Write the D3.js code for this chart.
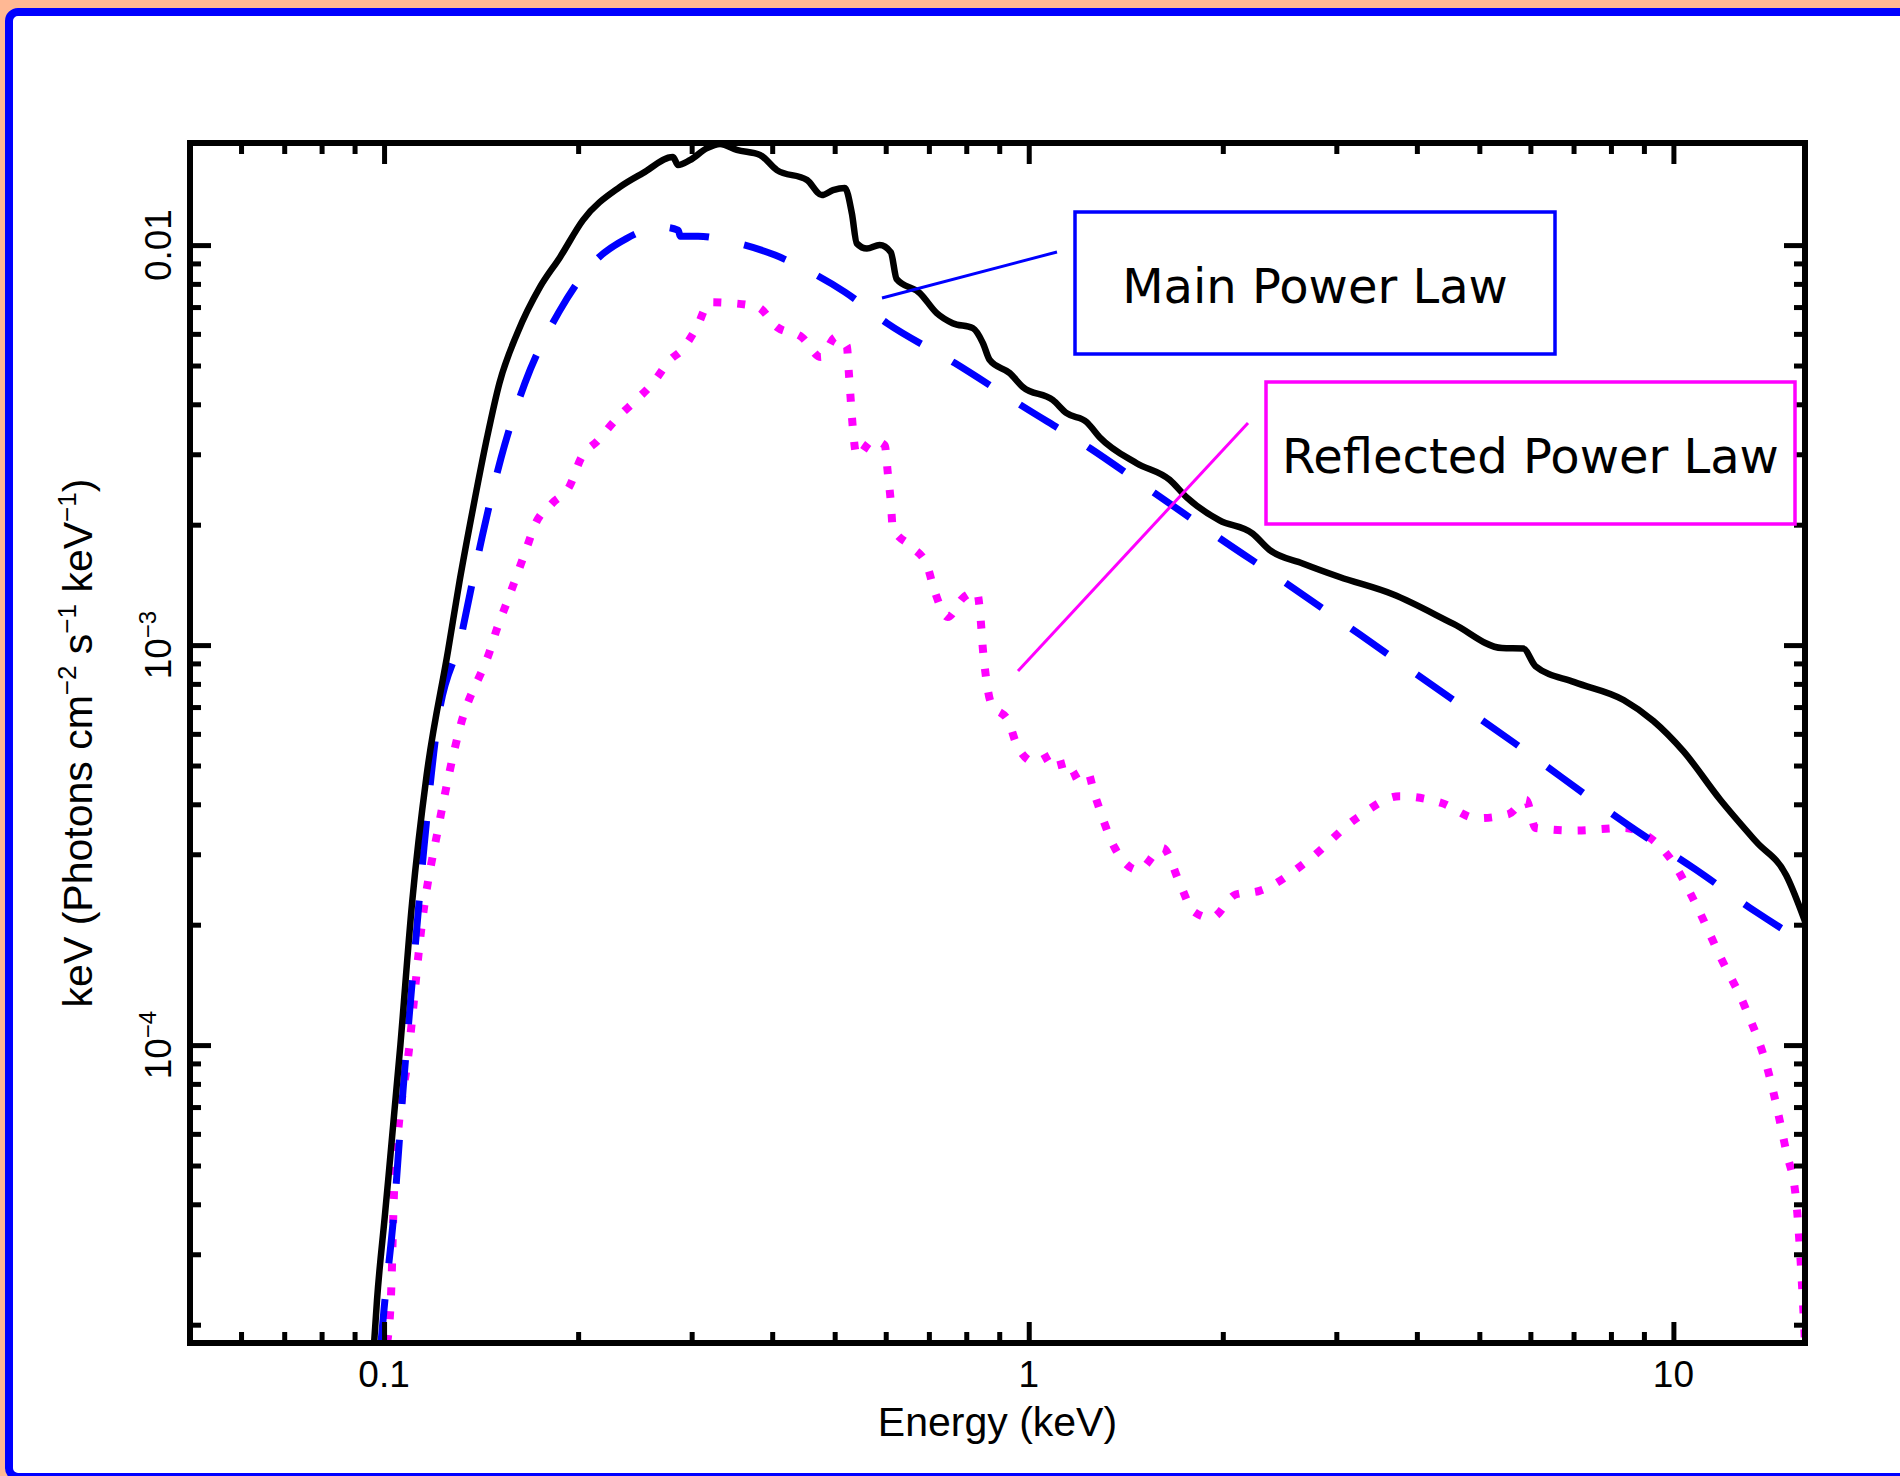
<!DOCTYPE html>
<html>
<head>
<meta charset="utf-8">
<script src="https://cdn.jsdelivr.net/npm/d3@7"></script>
<style>
body { margin: 0; background: #ffb894; }
svg { display: block; }
</style>
</head>
<body>
<script>
// spectrum values (energy in keV, flux in keV photons cm-2 s-1 keV-1)
var totalEnergy = [0.0965, 0.0975, 0.1004, 0.106, 0.1105, 0.1164, 0.1257, 0.131, 0.1375, 0.1445, 0.151, 0.161, 0.1745, 0.1875, 0.2035, 0.232, 0.252, 0.2807, 0.2857, 0.298, 0.317, 0.332, 0.3525, 0.383, 0.4068, 0.453, 0.4776, 0.497, 0.5185, 0.5317, 0.541, 0.561, 0.587, 0.611, 0.624, 0.6777, 0.72, 0.762, 0.819, 0.849, 0.87, 0.934, 0.979, 1.09, 1.145, 1.23, 1.288, 1.47, 1.654, 1.758, 1.977, 2.225, 2.363, 2.66, 3.035, 3.67, 4.56, 5.42, 5.85, 6.11, 7.02, 8.37, 9.31, 10.36, 11.83, 13.45, 14.96, 16];
var totalFlux = [1.8e-5, 2.3e-5, 3.82e-5, 1.0e-4, 2.26e-4, 4.72e-4, 9.7e-4, 1.45e-3, 2.21e-3, 3.31e-3, 4.52e-3, 6.03e-3, 7.85e-3, 9.33e-3, 0.01155, 0.01396, 0.01513, 0.0166, 0.01585, 0.0163, 0.01748, 0.0179, 0.0173, 0.0168, 0.0154, 0.01454, 0.01334, 0.01372, 0.0139, 0.012, 0.0101, 0.0098, 0.0100, 0.0096, 0.00822, 0.00759, 0.00676, 0.00638, 0.0062, 0.00569, 0.00516, 0.00479, 0.00442, 0.0041, 0.0038, 0.00361, 0.00331, 0.00285, 0.00259, 0.00234, 0.00205, 0.0019, 0.00173, 0.0016, 0.00148, 0.00134, 0.00113, 0.000983, 0.00098, 0.000886, 0.000808, 0.000729, 0.000646, 0.000543, 0.00041, 0.000322, 0.000266, 0.000204];

var mainEnergy = [0.0989, 0.1, 0.1036, 0.107, 0.111, 0.1153, 0.1208, 0.132, 0.136, 0.142, 0.1518, 0.1654, 0.1867, 0.211, 0.238, 0.27, 0.286, 0.288, 0.307, 0.3477, 0.404, 0.453, 0.5187, 0.6025, 0.768, 0.972, 1.243, 1.568, 1.977, 2.49, 3.67, 5.66, 8.73, 10.82, 13.45, 16];
var mainFlux = [1.8e-5, 2.19e-5, 3.82e-5, 7.7e-5, 1.55e-4, 3.11e-4, 6.24e-4, 1.07e-3, 1.35e-3, 1.87e-3, 2.93e-3, 4.52e-3, 6.8e-3, 9.02e-3, 0.0104, 0.0111, 0.0109, 0.01053, 0.01053, 0.01017, 0.00944, 0.00866, 0.00763, 0.00638, 0.00507, 0.00398, 0.00311, 0.0024, 0.00185, 0.00144, 0.00093, 0.00057, 0.000345, 0.000275, 0.000215, 0.00018];

var reflEnergy = [0.1011, 0.1026, 0.1037, 0.1095, 0.1146, 0.1217, 0.1312, 0.146, 0.1497, 0.1551, 0.1608, 0.166, 0.172, 0.1822, 0.1943, 0.202, 0.2147, 0.2297, 0.2449, 0.2612, 0.2776, 0.2897, 0.3057, 0.32, 0.3463, 0.38, 0.4068, 0.4445, 0.476, 0.5021, 0.5222, 0.526, 0.5297, 0.5335, 0.5412, 0.5729, 0.598, 0.6045, 0.611, 0.6154, 0.6588, 0.695, 0.715, 0.7488, 0.79, 0.8306, 0.8424, 0.8484, 0.8576, 0.8731, 0.9311, 0.9614, 1.0216, 1.105, 1.145, 1.23, 1.266, 1.36, 1.48, 1.613, 1.72, 1.80, 1.92, 2.094, 2.28, 2.716, 3.225, 3.76, 4.37, 4.96, 5.55, 5.91, 6.11, 7.02, 8.37, 9.12, 9.93, 10.82, 11.83, 12.9, 14.04, 14.96, 15.5, 15.9, 16];
var reflFlux = [1.8e-5, 2.45e-5, 4.4e-5, 1.0e-4, 2.04e-4, 3.57e-4, 6.24e-4, 9.7e-4, 1.1e-3, 1.28e-3, 1.5e-3, 1.73e-3, 2.02e-3, 2.26e-3, 2.51e-3, 2.93e-3, 3.25e-3, 3.69e-3, 4.07e-3, 4.52e-3, 5.16e-3, 5.47e-3, 6.24e-3, 7.2e-3, 7.16e-3, 7.0e-3, 6.24e-3, 5.89e-3, 5.25e-3, 5.89e-3, 5.59e-3, 4.79e-3, 4.07e-3, 3.49e-3, 2.97e-3, 3.25e-3, 3.16e-3, 2.69e-3, 2.28e-3, 1.96e-3, 1.76e-3, 1.585e-3, 1.36e-3, 1.175e-3, 1.31e-3, 1.36e-3, 1.155e-3, 9.89e-4, 8.41e-4, 7.2e-4, 6.42e-4, 5.56e-4, 5.1e-4, 5.37e-4, 4.65e-4, 4.87e-4, 4.22e-4, 3.11e-4, 2.74e-4, 3.11e-4, 2.51e-4, 2.16e-4, 2.08e-4, 2.38e-4, 2.43e-4, 2.9e-4, 3.69e-4, 4.19e-4, 4.03e-4, 3.69e-4, 3.78e-4, 4.1e-4, 3.49e-4, 3.44e-4, 3.49e-4, 3.33e-4, 2.9e-4, 2.26e-4, 1.66e-4, 1.25e-4, 8.56e-5, 5.43e-5, 4.1e-5, 2.2e-5, 1.8e-5];

// ticks
var xMajor = [0.1, 1, 10];
var xLabels = ["0.1", "1", "10"];
var xMinor = [0.06, 0.07, 0.08, 0.09, 0.2, 0.3, 0.4, 0.5, 0.6, 0.7, 0.8, 0.9, 2, 3, 4, 5, 6, 7, 8, 9];
var yMajor = [1e-4, 1e-3, 1e-2];
var yLabels = [["10", "\u22124"], ["10", "\u22123"], ["0.01", ""]];
var yMinor = [2e-5, 3e-5, 4e-5, 5e-5, 6e-5, 7e-5, 8e-5, 9e-5, 2e-4, 3e-4, 4e-4, 5e-4, 6e-4, 7e-4, 8e-4, 9e-4, 2e-3, 3e-3, 4e-3, 5e-3, 6e-3, 7e-3, 8e-3, 9e-3];

var legendLabels = ["Main Power Law", "Reflected Power Law"];

var width = 1900,
    height = 1476;
var plotL = 190, plotR = 1805, plotT = 143, plotB = 1343;

var svg = d3.select("body").append("svg")
    .attr("width", width)
    .attr("height", height)

// peach background with the blue rounded frame
svg.append("rect")
    .attr("x", 9).attr("y", 12)
    .attr("width", 1910).attr("height", 1465)
    .attr("rx", 9)
    .attr("fill", "white")
    .attr("stroke", "#0000ff")
    .attr("stroke-width", 8)

var x = d3.scaleLog().domain([0.05, 16]).range([plotL, plotR]);
var y = d3.scaleLog().domain([1.8e-5, 0.018]).range([plotB, plotT]);

svg.append("clipPath").attr("id", "plotclip")
    .append("rect")
    .attr("x", plotL).attr("y", plotT)
    .attr("width", plotR - plotL).attr("height", plotB - plotT)

var line = d3.line()
    .x(function (d) { return x(d[0]) })
    .y(function (d) { return y(d[1]) })
    .curve(d3.curveMonotoneX)

var curves = svg.append("g").attr("clip-path", "url(#plotclip)")

curves.append("path")
    .datum(d3.zip(reflEnergy, reflFlux))
    .attr("d", line)
    .attr("fill", "none")
    .attr("stroke", "#ff00ff")
    .attr("stroke-width", 8)
    .attr("stroke-dasharray", "8,16")

curves.append("path")
    .datum(d3.zip(mainEnergy, mainFlux))
    .attr("d", line)
    .attr("fill", "none")
    .attr("stroke", "#0000ff")
    .attr("stroke-width", 7)
    .attr("stroke-dasharray", "44,36")

curves.append("path")
    .datum(d3.zip(totalEnergy, totalFlux))
    .attr("d", line)
    .attr("fill", "none")
    .attr("stroke", "black")
    .attr("stroke-width", 6.5)
    .attr("stroke-linejoin", "round")

/* inward ticks on all four sides */
function ticks(axis, values, size, transform) {
    var g = svg.append("g")
        .attr("transform", transform)
        .call(axis.tickValues(values).tickSize(-size).tickFormat(""))
    g.select(".domain").remove()
    g.selectAll(".tick line").attr("stroke", "black").attr("stroke-width", 5)
}
ticks(d3.axisBottom(x), xMajor, 21, "translate(0," + plotB + ")")
ticks(d3.axisBottom(x), xMinor, 11, "translate(0," + plotB + ")")
ticks(d3.axisTop(x), xMajor, 21, "translate(0," + plotT + ")")
ticks(d3.axisTop(x), xMinor, 11, "translate(0," + plotT + ")")
ticks(d3.axisLeft(y), yMajor, 21, "translate(" + plotL + ",0)")
ticks(d3.axisLeft(y), yMinor, 11, "translate(" + plotL + ",0)")
ticks(d3.axisRight(y), yMajor, 21, "translate(" + plotR + ",0)")
ticks(d3.axisRight(y), yMinor, 11, "translate(" + plotR + ",0)")

svg.append("rect")
    .attr("x", plotL).attr("y", plotT)
    .attr("width", plotR - plotL).attr("height", plotB - plotT)
    .attr("fill", "none")
    .attr("stroke", "black")
    .attr("stroke-width", 6)

var font = "'Liberation Sans', Arial, Helvetica, sans-serif";

// x tick labels
svg.append("g").selectAll("text")
    .data(xMajor)
    .enter().append("text")
    .attr("x", function (d) { return x(d) })
    .attr("y", 1387)
    .attr("text-anchor", "middle")
    .attr("font-family", font)
    .attr("font-size", 37)
    .text(function (d, i) { return xLabels[i] })

// y tick labels, rotated
var yl = svg.append("g").selectAll("text")
    .data(yMajor)
    .enter().append("text")
    .attr("transform", function (d) { return "translate(171," + y(d) + ") rotate(-90)" })
    .attr("text-anchor", "middle")
    .attr("font-family", font)
    .attr("font-size", 37)
yl.append("tspan").text(function (d, i) { return yLabels[i][0] })
yl.append("tspan")
    .attr("font-size", 24)
    .attr("dy", -15)
    .text(function (d, i) { return yLabels[i][1] })

svg.append("text")
    .attr("x", (plotL + plotR) / 2)
    .attr("y", 1436)
    .attr("text-anchor", "middle")
    .attr("font-family", font)
    .attr("font-size", 41)
    .text("Energy (keV)")

var yt = svg.append("text")
    .attr("transform", "translate(92," + (plotT + plotB) / 2 + ") rotate(-90)")
    .attr("text-anchor", "middle")
    .attr("font-family", font)
    .attr("font-size", 41)
var parts = [["keV (Photons cm", 0], ["\u22122", 1], [" s", 0], ["\u22121", 1], [" keV", 0], ["\u22121", 1], [")", 0]]
parts.forEach(function (p, i) {
    var t = yt.append("tspan").text(p[0])
    if (p[1]) t.attr("font-size", 26).attr("dy", -16)
    else if (i > 0) t.attr("dy", 16)
})

/* legend boxes with leader lines */
var legends = [
    { x: 1075, y: 212, w: 480, h: 142, color: "#0000ff", line: [882, 298, 1057, 252] },
    { x: 1266, y: 382, w: 529, h: 142, color: "#ff00ff", line: [1018, 671, 1248, 423] }
]
var lg = svg.selectAll("g.legend")
    .data(legends)
    .enter().append("g")
    .attr("class", "legend")

lg.append("line")
    .attr("x1", function (d) { return d.line[0] })
    .attr("y1", function (d) { return d.line[1] })
    .attr("x2", function (d) { return d.line[2] })
    .attr("y2", function (d) { return d.line[3] })
    .attr("stroke", function (d) { return d.color })
    .attr("stroke-width", 3)

lg.append("rect")
    .attr("x", function (d) { return d.x })
    .attr("y", function (d) { return d.y })
    .attr("width", function (d) { return d.w })
    .attr("height", function (d) { return d.h })
    .attr("fill", "white")
    .attr("stroke", function (d) { return d.color })
    .attr("stroke-width", 3.5)

lg.append("text")
    .attr("x", function (d) { return d.x + d.w / 2 })
    .attr("y", function (d) { return d.y + d.h / 2 + 20 })
    .attr("text-anchor", "middle")
    .attr("font-family", "'DejaVu Sans', Verdana, sans-serif")
    .attr("font-size", 48)
    .text(function (d, i) { return legendLabels[i] })
</script>
</body>
</html>
